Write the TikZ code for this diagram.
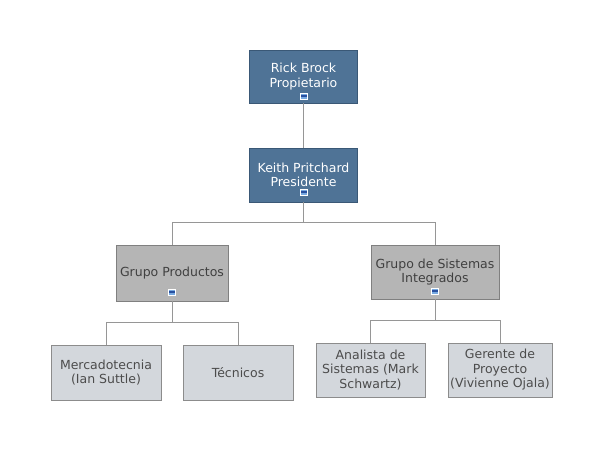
\documentclass[tikz,border=0pt]{standalone}
\usepackage{fontspec}
\setmainfont{DejaVu Sans}
\definecolor{jefe}{RGB}{79,115,150}
\definecolor{jefeborde}{RGB}{58,88,118}
\definecolor{grupo}{RGB}{181,181,181}
\definecolor{grupoborde}{RGB}{128,128,128}
\definecolor{hoja}{RGB}{211,215,220}
\definecolor{hojaborde}{RGB}{140,140,140}
\definecolor{linea}{RGB}{150,150,150}
\definecolor{iconofondo}{RGB}{120,170,225}
\definecolor{iconobarra}{RGB}{40,80,160}
\begin{document}
\begin{tikzpicture}[x=1pt,y=-1pt,
box/.style={%
draw,
align=center,
font=\fontsize{12.5}{14.5}\selectfont,
line width=0.8pt,
},
jefebox/.style={%
box,
fill=jefe,
draw=jefeborde,
text=white,
minimum width=108,
minimum height=53,
},
grupobox/.style={%
box,
fill=grupo,
draw=grupoborde,
text=black!75,
minimum height=56,
},
hojabox/.style={%
box,
fill=hoja,
draw=hojaborde,
text=black!70,
minimum height=55,
},
icono/.style={%
draw=white,
line width=0.5pt,
fill=iconofondo,
inner sep=0pt,
minimum width=7,
minimum height=6,
path picture={\draw[iconobarra,line width=1.5pt](path picture bounding box.west)--(path picture bounding box.east);},
},
conector/.style={%
draw=linea,
line width=0.8pt,
},
]
\useasboundingbox (0,0) rectangle (608,450);
%% Direccion
\node[jefebox]at(303.5,76.5)(rb){Rick Brock\\Propietario};
\node[jefebox,minimum height=54]at(303.5,175)(kp){Keith Pritchard\\Presidente};
\node[icono]at(303.5,96)(rbicono){};
\node[icono]at(303.5,192)(kpicono){};
%% Grupos
\node[grupobox,minimum width=112]at(172,273)(gp){Grupo Productos};
\node[grupobox,minimum width=128,minimum height=54]at(435,272)(gs){Grupo de Sistemas\\Integrados};
\node[icono]at(172,292)(gpicono){};
\node[icono]at(435,291)(gsicono){};
%% Personal
\node[hojabox,minimum width=110]at(106,372.5)(mt){Mercadotecnia\\(Ian Suttle)};
\node[hojabox,minimum width=110]at(238,372.5)(tc){Técnicos};
\node[hojabox,minimum width=109,minimum height=54]at(370.5,370)(an){Analista de\\Sistemas (Mark\\Schwartz)};
\node[hojabox,minimum width=104,minimum height=54,inner xsep=1pt]at(500,370)(ge){Gerente de\\Proyecto\\(Vivienne Ojala)};
%% Conectores
\coordinate(b1)at(303.5,222);
\coordinate(b2)at(172,322);
\coordinate(b3)at(435,320);
\draw[conector](rb)--(kp);
\draw[conector](kp)--(b1)-|(gp);
\draw[conector](b1)-|(gs);
\draw[conector](gp)--(b2)-|(mt);
\draw[conector](b2)-|(tc);
\draw[conector](gs)--(b3)-|(an);
\draw[conector](b3)-|(ge);
\end{tikzpicture}
\end{document}
